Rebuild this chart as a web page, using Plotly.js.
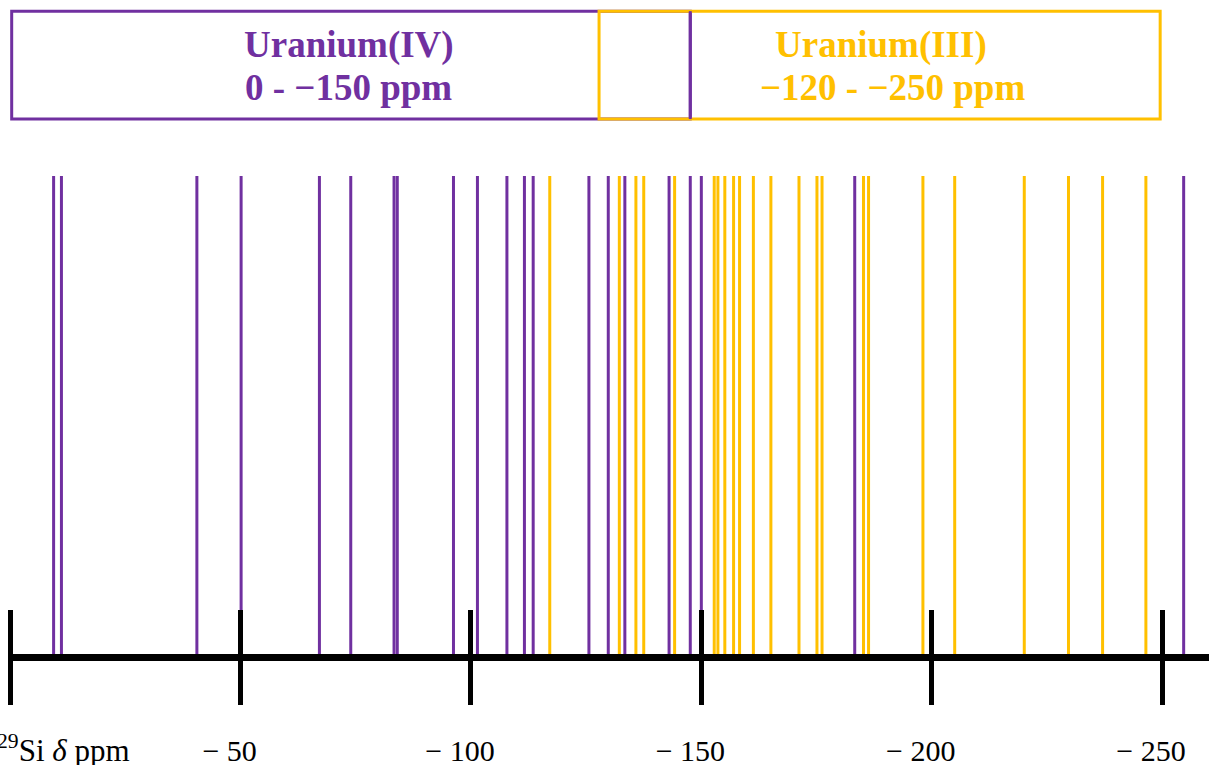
<!DOCTYPE html>
<html>
<head>
<meta charset="utf-8">
<script src="https://cdn.plot.ly/plotly-3.0.1.min.js"></script>
<style>html,body{margin:0;padding:0;background:#fff;}#chart{width:1209px;height:765px;}</style>
</head>
<body>
<div id="chart"></div>
<script>
// 29Si chemical shifts (ppm)
const uraniumIV = [-9.4, -11.1, -40.5, -50.1, -67.1, -73.9, -83.3, -84.0, -96.2, -101.4, -107.8, -111.6, -113.5, -125.6, -129.8, -133.4, -143.0, -147.6, -150.0, -183.3, -254.7];
const uraniumIII = [-117.1, -132.2, -135.8, -137.5, -144.2, -152.8, -153.6, -155.1, -157.0, -158.3, -161.3, -165.1, -171.2, -175.1, -176.2, -185.2, -186.3, -198.1, -205.0, -220.1, -229.7, -237.1, -246.5];
const tickVals = [0, -50, -100, -150, -200, -250];
const tickText = ["", "\u2212 50", "\u2212 100", "\u2212 150", "\u2212 200", "\u2212 250"];
const rangeIV = [0, -150];
const rangeIII = [-120, -250];

const PURPLE = "#7030A0";
const YELLOW = "#FFC000";

function stickTrace(vals, color, name) {
  const x = [], y = [];
  vals.forEach(v => { x.push(v, v, null); y.push(0, 1, null); });
  return {type: "scatter", mode: "lines", x: x, y: y, name: name,
          line: {color: color, width: 3}, hoverinfo: "skip", showlegend: false};
}

const traces = [
  stickTrace(uraniumIV, PURPLE, "Uranium(IV)"),
  stickTrace(uraniumIII, YELLOW, "Uranium(III)"),
  {type: "scatter", mode: "markers", x: [null], y: [null], xaxis: "x2", yaxis: "y", hoverinfo: "skip", showlegend: false}
];

const XR = [0.5, -260.2];
const PLOT_W = 1209 - 7.7;

const boxTop = 1.3448, boxBot = 1.1191;
const shapes = [
  {type: "rect", xref: "x", yref: "paper", x0: rangeIV[0] - 0.3, x1: -147.6, y0: boxBot, y1: boxTop,
   line: {color: PURPLE, width: 3}, fillcolor: "rgba(0,0,0,0)"},
  {type: "rect", xref: "x", yref: "paper", x0: -127.8, x1: rangeIII[1] + 0.4, y0: boxBot, y1: boxTop,
   line: {color: YELLOW, width: 3}, fillcolor: "rgba(0,0,0,0)"},
  {type: "line", xref: "x", yref: "paper", x0: -147.6, x1: -147.6, y0: boxBot, y1: boxTop,
   line: {color: PURPLE, width: 3}}
];

const serif = "Liberation Serif, Times New Roman, serif";
const annotations = [
  {xref: "x", yref: "paper", x: -73.6, y: (654.5 - 45) / 478.5, text: "<b>Uranium(IV)</b>", showarrow: false,
   font: {family: serif, size: 37, color: PURPLE}, xanchor: "center", yanchor: "middle"},
  {xref: "x", yref: "paper", x: -73.4, y: (654.5 - 87) / 478.5, text: "<b>0 - \u2212150 ppm</b>", showarrow: false,
   font: {family: serif, size: 37, color: PURPLE}, xanchor: "center", yanchor: "middle"},
  {xref: "x", yref: "paper", x: -189.0, y: (654.5 - 45) / 478.5, text: "<b>Uranium(III)</b>", showarrow: false,
   font: {family: serif, size: 37, color: YELLOW}, xanchor: "center", yanchor: "middle"},
  {xref: "x", yref: "paper", x: -191.6, y: (654.5 - 87) / 478.5, text: "<b>\u2212120 - \u2212250 ppm</b>", showarrow: false,
   font: {family: serif, size: 37, color: YELLOW}, xanchor: "center", yanchor: "middle"},
  {xref: "paper", yref: "paper", x: (132 - 7.7) / PLOT_W, y: (654.5 - 749) / 478.5, text: "<sup>29</sup>Si <i>\u03b4</i> ppm",
   showarrow: false, font: {family: serif, size: 31, color: "#000"}, xanchor: "right", yanchor: "middle"}
];

const layout = {
  width: 1209, height: 765,
  margin: {l: 7.7, r: 0, t: 176, b: 110.5, pad: 0},
  paper_bgcolor: "#fff", plot_bgcolor: "#fff",
  showlegend: false,
  xaxis: {range: XR, showgrid: false, zeroline: false, showline: true, linewidth: 7, linecolor: "#000",
          tickmode: "array", tickvals: tickVals, ticktext: tickText, ticks: "outside", ticklen: 44, tickwidth: 5,
          tickcolor: "#000", ticklabelstandoff: 20, ticklabelshift: 11,
          tickfont: {family: serif, size: 30, color: "#000"}},
  xaxis2: {range: XR, overlaying: "x", anchor: "y", side: "bottom", showgrid: false, zeroline: false,
           showline: false, tickmode: "array", tickvals: tickVals, ticks: "inside", ticklen: 44, tickwidth: 5,
           tickcolor: "#000", showticklabels: false},
  yaxis: {range: [0, 1], visible: false, showgrid: false, zeroline: false, fixedrange: true},
  shapes: shapes,
  annotations: annotations
};

Plotly.newPlot("chart", traces, layout, {displayModeBar: false, staticPlot: true});
</script>
</body>
</html>
